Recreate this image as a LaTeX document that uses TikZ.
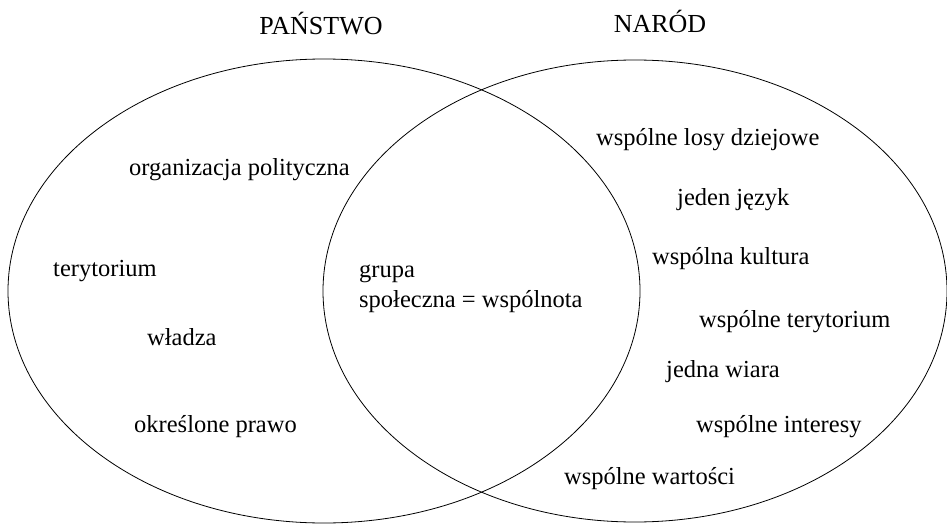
\documentclass[tikz,border=0pt]{standalone}
\usepackage{fontspec}
\setmainfont{Liberation Serif}
\begin{document}
\begin{tikzpicture}[x=1pt,y=-1pt,
  lbl/.style={anchor=base west,inner sep=0pt,font=\fontsize{24.5}{28}\selectfont},
  ttl/.style={anchor=base,inner sep=0pt,font=\fontsize{26}{30}\selectfont},
  venn/.style={draw=black,line width=0.8pt}]
\useasboundingbox (0,0) rectangle (947,524);
\draw[venn] (324,291) ellipse [x radius=316, y radius=232];
\draw[venn] (635,291) ellipse [x radius=312, y radius=231];
\node[ttl] (panstwo) at (321,35) {PAŃSTWO};
\node[ttl] (narod) at (660,33) {NARÓD};
\node[lbl] (org) at (129,175) {organizacja polityczna};
\node[lbl] (ter) at (53,276) {terytorium};
\node[lbl] (wla) at (147,345) {władza};
\node[lbl] (pra) at (134,432) {określone prawo};
\node[lbl] (gru) at (359,277) {grupa};
\node[lbl] (spo) at (359,307) {społeczna = wspólnota};
\node[lbl] (los) at (596,145) {wspólne losy dziejowe};
\node[lbl] (jez) at (677,205) {jeden język};
\node[lbl] (kul) at (652,264) {wspólna kultura};
\node[lbl] (wter) at (699,327) {wspólne terytorium};
\node[lbl] (wia) at (666,377) {jedna wiara};
\node[lbl] (int) at (696,432) {wspólne interesy};
\node[lbl] (war) at (564,484) {wspólne wartości};
\end{tikzpicture}
\end{document}
